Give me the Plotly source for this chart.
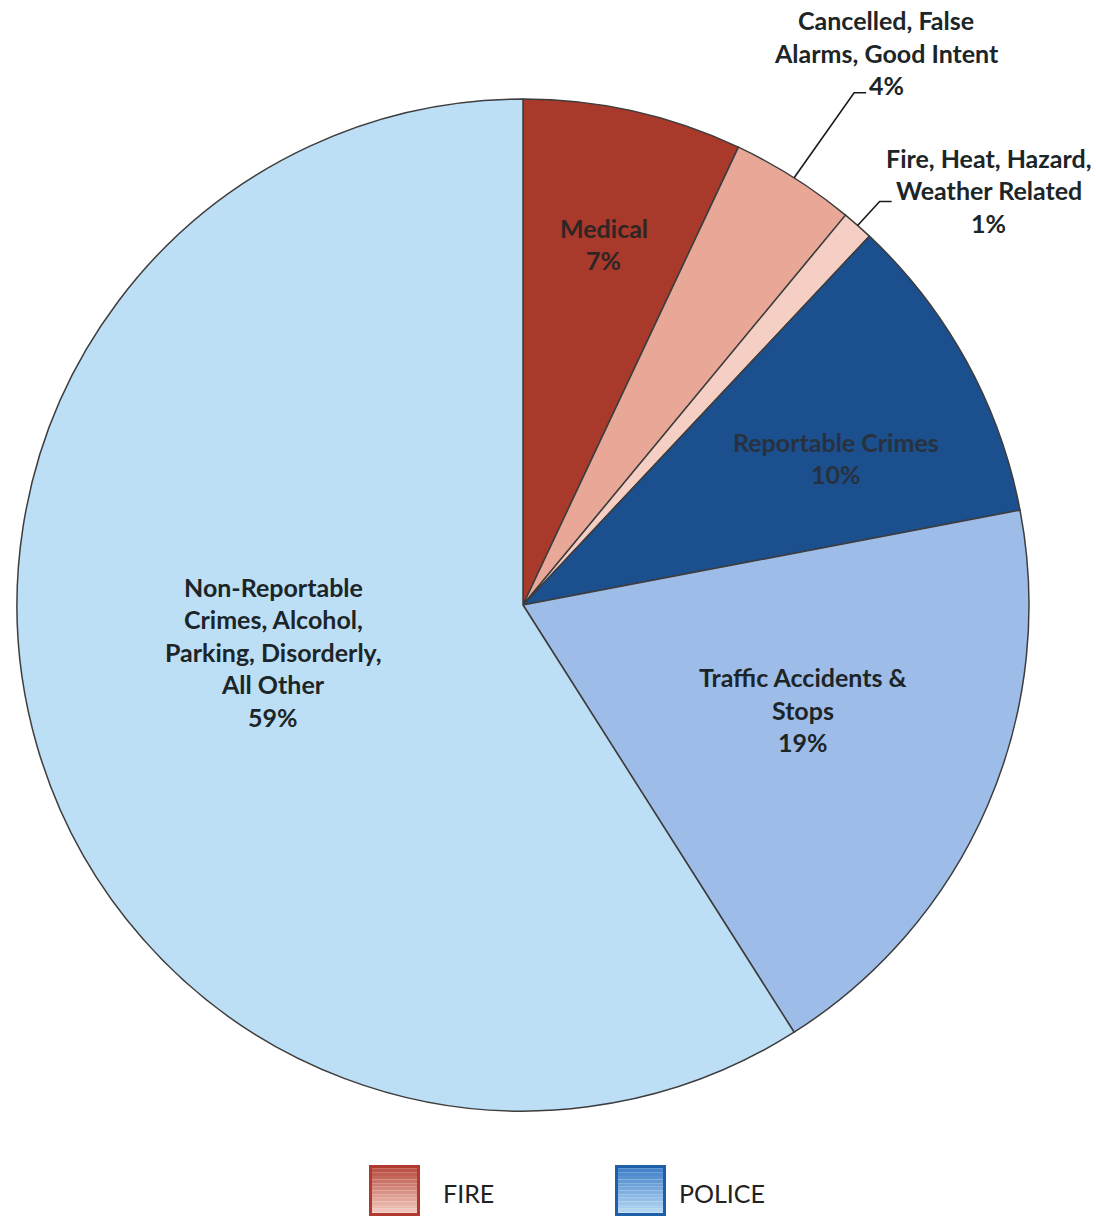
import math
import plotly.graph_objects as go

# Call categories (clockwise from 12 o'clock) and their shares in percent
categories = [
    "Medical",
    "Cancelled, False Alarms, Good Intent",
    "Fire, Heat, Hazard, Weather Related",
    "Reportable Crimes",
    "Traffic Accidents & Stops",
    "Non-Reportable Crimes, Alcohol, Parking, Disorderly, All Other",
]
shares = [7, 4, 1, 10, 19, 59]
slice_colors = ["#a8392b", "#e9a797", "#f5cfc3", "#1b4f8d", "#9dbde8", "#bddff6"]

# Text shown for each slice (lines of the label)
label_lines = [
    ["Medical", "7%"],
    ["Cancelled, False", "Alarms, Good Intent", "4%"],
    ["Fire, Heat, Hazard,", "Weather Related", "1%"],
    ["Reportable Crimes", "10%"],
    ["Traffic Accidents &", "Stops", "19%"],
    ["Non-Reportable", "Crimes, Alcohol,", "Parking, Disorderly,", "All Other", "59%"],
]

legend_groups = ["FIRE", "POLICE"]

W, H = 1096, 1217
CX, CY, R = 523, 605, 506          # pie centre and radius in pixels
LINE_H = 32.5                      # label line spacing in pixels
FONT = "Lato, 'Open Sans', sans-serif"
TEXT = "#1c2527"


def px(x):
    return x / W


def py(y):
    return 1 - y / H


def polar(pct, r):
    """Pixel position at a cumulative percentage and radius."""
    a = math.radians(pct * 3.6)
    return CX + r * math.sin(a), CY - r * math.cos(a)


cum = [sum(shares[:i]) for i in range(len(shares))]
mids = [c + s / 2 for c, s in zip(cum, shares)]

fig = go.Figure(
    go.Pie(
        labels=categories,
        values=shares,
        sort=False,
        direction="clockwise",
        rotation=0,
        marker=dict(colors=slice_colors, line=dict(color="#3d3d3d", width=1.5)),
        textinfo="none",
        hoverinfo="label+percent",
        showlegend=False,
        domain=dict(x=[px(CX - R), px(CX + R)], y=[py(CY + R), py(CY - R)]),
    )
)

annotations = []
shapes = []


def add_block(lines, cx, cy, color, size=25):
    n = len(lines)
    for i, line in enumerate(lines):
        y = cy + (i - (n - 1) / 2) * LINE_H
        annotations.append(dict(
            x=px(cx), y=py(y), xref="paper", yref="paper",
            text="<b>%s</b>" % line, showarrow=False,
            xanchor="center", yanchor="middle",
            font=dict(family=FONT, size=size, color=color),
        ))


# Labels placed inside the slices: (slice index, radius fraction, angle nudge in %, colour)
inside = [
    (0, 0.731, 0.0, "#2e2624"),
    (3, 0.683, 1.0, "#27323e"),
    (4, 0.591, -0.8, TEXT),
    (5, 0.502, 1.55, TEXT),
]
for idx, rf, nudge, col in inside:
    x, y = polar(mids[idx] + nudge, R * rf)
    add_block(label_lines[idx], x, y, col)

# Labels outside the pie with leader lines: (slice index, elbow dx, elbow dy, tail, text centre dx, dy)
outside = [
    (1, 60, -85, 12, 92, -125),
    (2, 22, -24, 12, 131, -35),
]
for idx, ex, ey, tail, tx, ty in outside:
    x0, y0 = polar(mids[idx], R)
    x1, y1 = x0 + ex, y0 + ey
    x2 = x1 + tail
    shapes.append(dict(
        type="path", xref="paper", yref="paper",
        path="M %f,%f L %f,%f L %f,%f" % (px(x0), py(y0), px(x1), py(y1), px(x2), py(y1)),
        line=dict(color="#1a1a1a", width=1.6),
    ))
    add_block(label_lines[idx], x0 + tx, y0 + ty, TEXT)

# Legend: gradient swatches for the two services
swatches = [
    (369, "#b03a30", "#b84a3e", "#f4cfc4", 443),
    (615, "#1f5fa8", "#3b7cc6", "#bcdcf6", 679),
]


def blend(c1, c2, t):
    a = [int(c1[i:i + 2], 16) for i in (1, 3, 5)]
    b = [int(c2[i:i + 2], 16) for i in (1, 3, 5)]
    return "#%02x%02x%02x" % tuple(round(a[k] + (b[k] - a[k]) * t) for k in range(3))


SW_TOP, SW_SIZE = 1165, 51
for (x0, border, top, bottom, tx), name in zip(swatches, legend_groups):
    bands = 14
    for b in range(bands):
        y0 = SW_TOP + SW_SIZE * b / bands
        y1 = SW_TOP + SW_SIZE * (b + 1) / bands
        shapes.append(dict(
            type="rect", xref="paper", yref="paper",
            x0=px(x0), x1=px(x0 + SW_SIZE), y0=py(y1), y1=py(y0),
            fillcolor=blend(top, bottom, b / (bands - 1)), line=dict(width=0),
        ))
    shapes.append(dict(
        type="rect", xref="paper", yref="paper",
        x0=px(x0 + 1.5), x1=px(x0 + SW_SIZE - 1.5), y0=py(SW_TOP + SW_SIZE - 1.5), y1=py(SW_TOP + 1.5),
        fillcolor="rgba(0,0,0,0)", line=dict(color=border, width=3),
    ))
    annotations.append(dict(
        x=px(tx - 2), y=py(1193), xref="paper", yref="paper", text=name,
        showarrow=False, xanchor="left", yanchor="middle",
        font=dict(family=FONT, size=25, color="#222222"),
    ))

fig.update_layout(
    width=W, height=H,
    margin=dict(l=0, r=0, t=0, b=0),
    paper_bgcolor="white", plot_bgcolor="white",
    annotations=annotations, shapes=shapes,
)

fig.write_html("out.html")
